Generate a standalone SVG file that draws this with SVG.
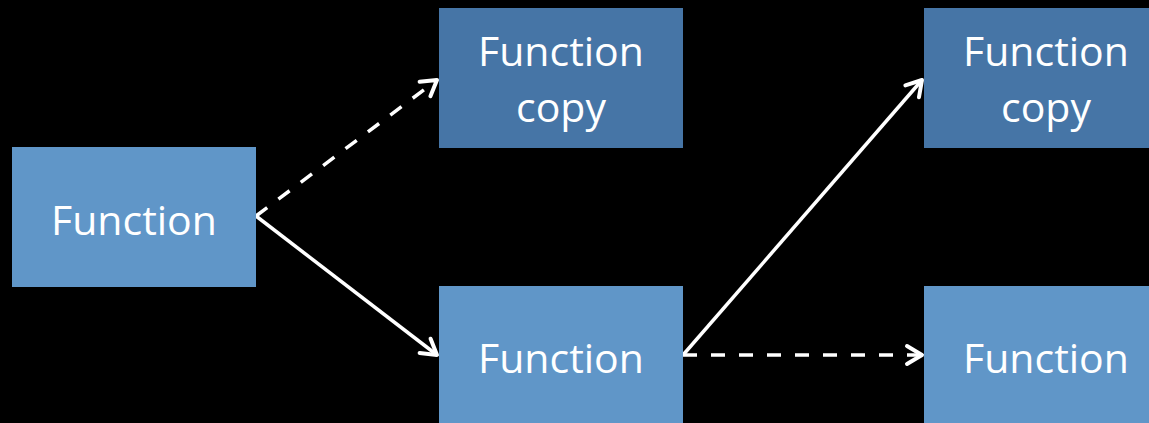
<svg xmlns="http://www.w3.org/2000/svg" width="1149" height="423" viewBox="0 0 1149 423">
<style>
.light{fill:#6096c8}
.dark{fill:#4675a6}
.t{font-family:"Open Sans","Liberation Sans",sans-serif;font-size:41px;fill:#ffffff;text-anchor:middle}
.c{stroke:#ffffff;stroke-width:3.5;fill:none}
.d{stroke-dasharray:14 14}
</style>
<defs>
<marker id="ah" viewBox="0 0 24 24" refX="21" refY="12" markerWidth="24" markerHeight="24" markerUnits="userSpaceOnUse" orient="auto">
<path d="M6,3 L21,12 L6,21" fill="none" stroke="#ffffff" stroke-width="4" stroke-linecap="round" stroke-linejoin="round"/>
</marker>
</defs>
<rect width="1149" height="423" fill="#000000"/>
<g id="connectors">
<line class="c d" x1="256" y1="216" x2="437" y2="80" marker-end="url(#ah)"/>
<line class="c" x1="256" y1="216" x2="437" y2="355" marker-end="url(#ah)"/>
<line class="c" x1="683" y1="355" x2="922" y2="80" marker-end="url(#ah)"/>
<line class="c d" x1="683" y1="355" x2="922" y2="355" marker-end="url(#ah)"/>
</g>
<g id="n1">
<rect class="light" x="12" y="147" width="244" height="140"/>
<text class="t" x="134" y="235">Function</text>
</g>
<g id="n2">
<rect class="dark" x="439" y="8" width="244" height="140"/>
<text class="t" x="561" y="66">Function</text>
<text class="t" x="561" y="122">copy</text>
</g>
<g id="n3">
<rect class="light" x="439" y="286" width="244" height="137"/>
<text class="t" x="561" y="373">Function</text>
</g>
<g id="n4">
<rect class="dark" x="924" y="8" width="225" height="140"/>
<text class="t" x="1046" y="66">Function</text>
<text class="t" x="1046" y="122">copy</text>
</g>
<g id="n5">
<rect class="light" x="924" y="286" width="225" height="137"/>
<text class="t" x="1046" y="373">Function</text>
</g>
</svg>
